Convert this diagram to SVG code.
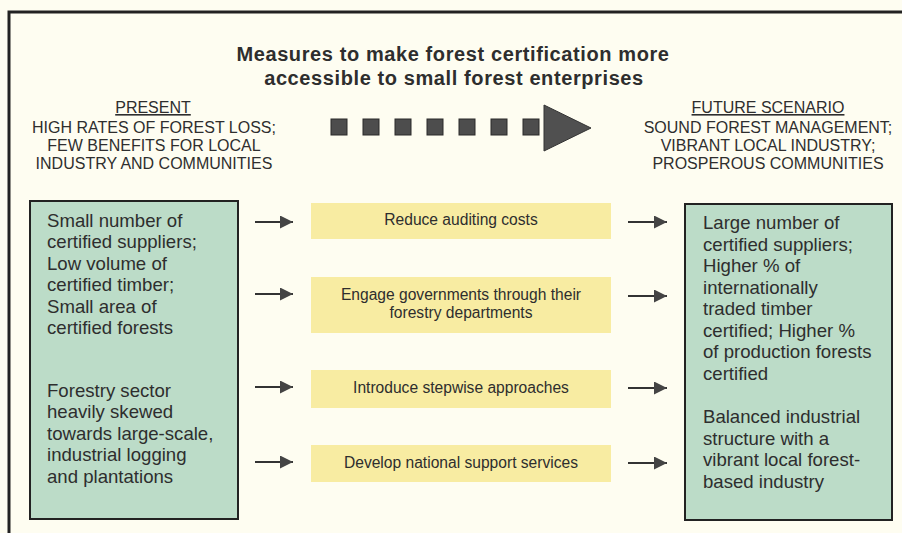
<svg xmlns="http://www.w3.org/2000/svg" width="902" height="533" viewBox="0 0 902 533">
<defs>
<style>
text{font-family:"Liberation Sans",Arial,sans-serif;fill:#2e2e2e}
.title{font-size:20px;font-weight:bold;letter-spacing:0.6px;text-anchor:middle}
.head{font-size:16px;text-anchor:middle}
.body{font-size:18.6px}
.mid{font-size:15.6px;text-anchor:middle}
.green{fill:#bcdcc8;stroke:#222;stroke-width:2}
.yellow{fill:#f8eca2}
.sq{fill:#4d4d4d;stroke:#2a2a2a;stroke-width:1}
.conn{stroke:#333;stroke-width:2;fill:none}
</style>
<marker id="ah" viewBox="0 0 13 13" refX="13" refY="6.5" markerWidth="13" markerHeight="13" markerUnits="userSpaceOnUse" orient="auto">
<path d="M0,0 L13,6.5 L0,13 Z" fill="#444"/>
</marker>
</defs>
<rect width="902" height="533" fill="#fefdf1"/>
<path d="M9,533 L9,12 L902,12" fill="none" stroke="#222" stroke-width="3"/>

<g id="title">
<text class="title" x="453" y="61">Measures to make forest certification more</text>
<text class="title" x="454" y="85">accessible to small forest enterprises</text>
</g>

<g id="present">
<text class="head" x="153" y="113" text-decoration="underline">PRESENT</text>
<text class="head" x="154" y="133">HIGH RATES OF FOREST LOSS;</text>
<text class="head" x="154" y="151">FEW BENEFITS FOR LOCAL</text>
<text class="head" x="154" y="169">INDUSTRY AND COMMUNITIES</text>
</g>

<g id="future">
<text class="head" x="768" y="113" text-decoration="underline">FUTURE SCENARIO</text>
<text class="head" x="768" y="133">SOUND FOREST MANAGEMENT;</text>
<text class="head" x="768" y="151">VIBRANT LOCAL INDUSTRY;</text>
<text class="head" x="768" y="169">PROSPEROUS COMMUNITIES</text>
</g>

<g id="big-arrow">
<rect class="sq" x="331" y="119" width="16" height="16"/>
<rect class="sq" x="363" y="119" width="16" height="16"/>
<rect class="sq" x="395" y="119" width="16" height="16"/>
<rect class="sq" x="427" y="119" width="16" height="16"/>
<rect class="sq" x="459" y="119" width="16" height="16"/>
<rect class="sq" x="491" y="119" width="16" height="16"/>
<rect class="sq" x="523" y="119" width="16" height="16"/>
<path d="M544,105 L591,128 L544,151 Z" fill="#505050" stroke="#333" stroke-width="1"/>
</g>

<g id="present-box">
<rect class="green" x="30" y="201" width="208" height="318"/>
<text class="body" x="47" y="226.5">Small number of</text>
<text class="body" x="47" y="248">certified suppliers;</text>
<text class="body" x="47" y="269.5">Low volume of</text>
<text class="body" x="47" y="291">certified timber;</text>
<text class="body" x="47" y="312.5">Small area of</text>
<text class="body" x="47" y="334">certified forests</text>
<text class="body" x="47" y="396.5">Forestry sector</text>
<text class="body" x="47" y="418">heavily skewed</text>
<text class="body" x="47" y="439.5">towards large-scale,</text>
<text class="body" x="47" y="461">industrial logging</text>
<text class="body" x="47" y="482.5">and plantations</text>
</g>

<g id="future-box">
<rect class="green" x="685" y="204" width="207" height="316"/>
<text class="body" x="703" y="229">Large number of</text>
<text class="body" x="703" y="250.5">certified suppliers;</text>
<text class="body" x="703" y="272">Higher % of</text>
<text class="body" x="703" y="293.5">internationally</text>
<text class="body" x="703" y="315">traded timber</text>
<text class="body" x="703" y="336.5">certified; Higher %</text>
<text class="body" x="703" y="358">of production forests</text>
<text class="body" x="703" y="379.5">certified</text>
<text class="body" x="703" y="423">Balanced industrial</text>
<text class="body" x="703" y="444.5">structure with a</text>
<text class="body" x="703" y="466">vibrant local forest-</text>
<text class="body" x="703" y="487.5">based industry</text>
</g>

<g id="measure-1">
<rect class="yellow" x="311" y="203" width="300" height="36"/>
<text class="mid" x="461" y="225">Reduce auditing costs</text>
</g>
<g id="measure-2">
<rect class="yellow" x="311" y="277" width="300" height="56"/>
<text class="mid" x="461" y="300">Engage governments through their</text>
<text class="mid" x="461" y="318">forestry departments</text>
</g>
<g id="measure-3">
<rect class="yellow" x="311" y="370" width="300" height="38"/>
<text class="mid" x="461" y="393">Introduce stepwise approaches</text>
</g>
<g id="measure-4">
<rect class="yellow" x="311" y="445" width="300" height="37"/>
<text class="mid" x="461" y="468">Develop national support services</text>
</g>

<g id="connectors">
<line class="conn" x1="255" y1="222" x2="293" y2="222" marker-end="url(#ah)"/>
<line class="conn" x1="255" y1="294" x2="293" y2="294" marker-end="url(#ah)"/>
<line class="conn" x1="255" y1="387" x2="293" y2="387" marker-end="url(#ah)"/>
<line class="conn" x1="255" y1="462" x2="293" y2="462" marker-end="url(#ah)"/>
<line class="conn" x1="628" y1="222" x2="667" y2="222" marker-end="url(#ah)"/>
<line class="conn" x1="628" y1="296" x2="667" y2="296" marker-end="url(#ah)"/>
<line class="conn" x1="628" y1="388" x2="667" y2="388" marker-end="url(#ah)"/>
<line class="conn" x1="628" y1="463" x2="667" y2="463" marker-end="url(#ah)"/>
</g>
</svg>
